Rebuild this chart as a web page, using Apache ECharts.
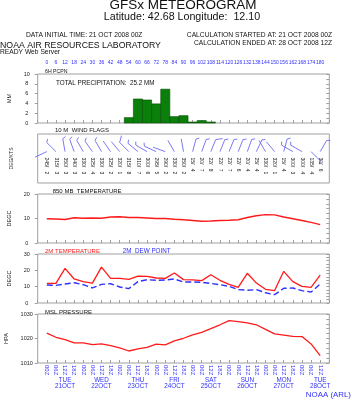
<!DOCTYPE html>
<html><head><meta charset="utf-8">
<script src="https://cdn.jsdelivr.net/npm/echarts@6/dist/echarts.min.js"></script>
<style>html,body{margin:0;padding:0;background:#fff}#c{width:352px;height:400px}</style>
</head><body><div id="c"></div>
<script>
const hours = [0,6,12,18,24,30,36,42,48,54,60,66,72,78,84,90,96,102,108,114,120,126,132,138,144,150,156,162,168,174,180];
const hourLabels = ['00Z','06Z','12Z','18Z','00Z','06Z','12Z','18Z','00Z','06Z','12Z','18Z','00Z','06Z','12Z','18Z','00Z','06Z','12Z','18Z','00Z','06Z','12Z','18Z','00Z','06Z','12Z','18Z','00Z','06Z','12Z'];
const dayHours = [12,36,60,84,108,132,156,180];
const dayNames = ['TUE','WED','THU','FRI','SAT','SUN','MON','TUE'];
const dayDates = ['21OCT','22OCT','23OCT','24OCT','25OCT','26OCT','27OCT','28OCT'];
const pcpnHours = [54,60,66,72,78,84,90,96,102,108];
const pcpnMM = [1.1,4.9,4.7,3.9,6.9,1.3,1.5,0.2,0.5,0.2];
const windDir = [245,315,350,340,330,325,330,325,320,315,310,300,295,290,330,350,15,20,22,22,22,22,20,25,330,320,15,300,300,135,30];
const windSpd = [2,3,3,3,3,4,3,2,1,8,7,6,5,2,2,2,4,7,8,7,7,6,4,4,1,1,4,3,4,4,6];
const t850 = [9.9,9.8,9.6,10.3,10.1,10.2,10.1,10.6,10.7,10.4,10.4,10.2,10.0,10.0,9.7,9.5,9.2,8.9,9.0,9.2,9.3,9.5,10.4,11.1,11.6,11.5,10.6,9.9,9.2,8.4,7.5];
const t2m = [12.0,12.0,21.2,14.7,13.1,12.2,22.0,15.1,15.1,14.5,16.5,16.3,15.3,15.1,18.4,14.3,14.1,13.7,17.3,13.9,11.4,9.6,18.2,12.2,8.4,7.6,19.4,13.1,10.2,9.6,17.1];
const td2m = [11.0,10.8,11.6,12.4,11.2,9.2,11.4,11.8,9.8,8.8,13.1,14.3,13.9,14.1,14.7,12.9,12.9,12.7,12.0,11.2,10.2,8.2,7.8,8.2,6.3,5.1,9.0,9.2,7.6,6.7,11.6];
const mslp = [1022.2,1020.5,1019.5,1018.2,1018.2,1017.5,1017.8,1017.1,1016.2,1014.9,1015.8,1016.4,1017.7,1017.4,1019.0,1020.1,1021.5,1022.5,1024.0,1025.6,1027.3,1026.9,1026.4,1025.6,1023.7,1021.9,1021.4,1020.9,1020.8,1017.8,1013.0];

const FF = 'Liberation Sans, Arial, Helvetica, sans-serif';
const BLUE = '#3030ff', RED = '#ff1a1a', GRAY = '#a0a0a0', BARB = '#6b6bf0';
const tops = [74, 134, 194, 254, 314];
const H = 49;
const grids = tops.map(t => ({left: 37.7, width: 291.6, top: t, height: H, show: true, borderColor: GRAY, borderWidth: 1, backgroundColor: 'transparent', containLabel: false, outerBoundsMode: 'none'}));

const xAxes = tops.map((t, i) => ({
  gridIndex: i, type: 'value', position: 'bottom', min: -6, max: 186, interval: 6,
  axisLine: {show: false, onZero: false}, splitLine: {show: false},
  axisTick: {show: i !== 1, inside: true, length: 3, lineStyle: {color: GRAY}},
  axisLabel: i === 4 ? {
    show: true, rotate: -90, margin: 2, fontSize: 6, fontFamily: FF, color: BLUE,
    formatter: v => { const k = hours.indexOf(v); return k < 0 ? '' : hourLabels[k]; }
  } : {show: false}
}));
xAxes.push({
  gridIndex: 0, type: 'value', position: 'top', min: -6, max: 186, interval: 6,
  axisLine: {show: false, onZero: false}, axisTick: {show: false}, splitLine: {show: false},
  axisLabel: {show: true, margin: 9, fontSize: 5, fontFamily: FF, color: BLUE,
    formatter: v => hours.indexOf(v) < 0 ? '' : String(v)}
});
xAxes.push({
  gridIndex: 4, type: 'value', position: 'bottom', offset: 6, min: -6, max: 186,
  axisLine: {show: false, onZero: false}, axisTick: {show: false}, splitLine: {show: false},
  axisLabel: {show: true, customValues: dayHours, fontSize: 6.3, lineHeight: 6.3, fontFamily: FF, color: BLUE,
    formatter: v => { const k = dayHours.indexOf(v); return k < 0 ? '' : dayNames[k] + '\n' + dayDates[k]; }}
});

function leftY(i, min, max, interval, name) {
  return {gridIndex: i, type: 'value', position: 'left', min, max, interval,
    name, nameLocation: 'middle', nameGap: 24, nameRotate: 90,
    nameTextStyle: {fontSize: 5.5, fontFamily: FF, color: '#222'},
    axisLine: {show: false, onZero: false}, splitLine: {show: false},
    axisTick: {show: true, length: 3, lineStyle: {color: GRAY}},
    axisLabel: {show: true, margin: 11, align: 'center', fontSize: 5.5, fontFamily: FF, color: '#222', formatter: v => String(v)}};
}
function rightY(i, min, max, interval) {
  return {gridIndex: i, type: 'value', position: 'right', min, max, interval,
    axisLine: {show: false, onZero: false}, splitLine: {show: false}, axisLabel: {show: false},
    axisTick: {show: true, inside: true, length: 3, lineStyle: {color: GRAY}}};
}
const yAxes = [
  leftY(0, 0, 10, 2, 'MM'),
  {gridIndex: 1, type: 'value', position: 'left', min: 0, max: 1, name: 'DEG/KTS', nameLocation: 'middle', nameGap: 24, nameRotate: 90,
    nameTextStyle: {fontSize: 5, fontFamily: FF, color: '#222'},
    axisLine: {show: false, onZero: false}, axisTick: {show: false}, axisLabel: {show: false}, splitLine: {show: false}},
  leftY(2, 0, 20, 10, 'DEGC'),
  leftY(3, 0, 30, 10, 'DEGC'),
  leftY(4, 1010, 1030, 10, 'HPA'),
  rightY(0, 0, 10, 1),
  rightY(2, 0, 20, 2),
  rightY(3, 0, 30, 2),
  rightY(4, 1010, 1030, 2)
];

const windData = hours.map((h, i) => [h, windDir[i], windSpd[i]]);
const STATION = 0.64, LABELY = 0.52;

function barbItem(params, api) {
  const h = api.value(0), dir = api.value(1), spd = api.value(2);
  const p = api.coord([h, STATION]);
  const L = 13, r = dir * Math.PI / 180;
  const ux = Math.sin(r), uy = -Math.cos(r);
  const tx = p[0] + L * ux, ty = p[1] + L * uy;
  const ch = [{type: 'line', shape: {x1: p[0], y1: p[1], x2: tx, y2: ty}, style: {stroke: BARB, lineWidth: 0.9}}];
  let n = Math.round(spd / 5);
  const br = (dir + 60) * Math.PI / 180;
  const bx = Math.sin(br), by = -Math.cos(br);
  let d = 0;
  while (n > 0) {
    const len = n >= 2 ? 7 : 3.5;
    const sx = tx - d * ux, sy = ty - d * uy;
    ch.push({type: 'line', shape: {x1: sx, y1: sy, x2: sx + len * bx, y2: sy + len * by}, style: {stroke: BARB, lineWidth: 0.9}});
    n -= n >= 2 ? 2 : 1;
    d += 2.5;
  }
  const lp = api.coord([h, LABELY]);
  ch.push({type: 'text', x: lp[0], y: lp[1], rotation: -Math.PI / 2,
    style: {text: dir + '/   ' + spd, fontSize: 5, fontFamily: FF, fill: '#222', align: 'left', verticalAlign: 'middle'}});
  return {type: 'group', children: ch};
}

function pcpnItem(params, api) {
  const h = api.value(0), v = api.value(1);
  const a = api.coord([h - 3, v]), b = api.coord([h + 3, 0]);
  return {type: 'rect', shape: {x: a[0], y: a[1], width: b[0] - a[0], height: b[1] - a[1]},
    style: {fill: '#0a800a', stroke: '#034d03', lineWidth: 0.6}};
}

const txt = (x, y, text, size, opts = {}) => ({type: 'text', x, y, silent: true,
  style: Object.assign({text, fontSize: size, fontFamily: FF, fill: '#111', align: 'left', verticalAlign: 'middle'}, opts)});

const option = {
  animation: false,
  backgroundColor: '#fff',
  grid: grids,
  xAxis: xAxes,
  yAxis: yAxes,
  graphic: [
    txt(183, 5.5, 'GFSx METEOROGRAM', 13.5, {align: 'center'}),
    txt(182, 17, 'Latitude: 42.68 Longitude:  12.10', 10.7, {align: 'center'}),
    txt(26, 35.5, 'DATA INITIAL TIME: 21 OCT 2008 00Z', 6.7),
    txt(332, 35.5, 'CALCULATION STARTED AT: 21 OCT 2008 00Z', 6.7, {align: 'right'}),
    txt(332, 43, 'CALCULATION ENDED AT: 28 OCT 2008 12Z', 6.7, {align: 'right'}),
    txt(0, 45.5, 'NOAA AIR RESOURCES LABORATORY', 8.75),
    txt(0, 52.5, 'READY Web Server', 6.7),
    txt(45, 71.5, '6H PCPN', 5.2),
    txt(56, 83, 'TOTAL PRECIPITATION:  25.2 MM', 6.3),
    txt(55, 130.5, '10 M  WIND FLAGS', 6),
    txt(52.7, 191, '850 MB  TEMPERATURE', 6),
    txt(45, 251, '2M TEMPERATURE', 6, {fill: RED}),
    txt(122.7, 251, '2M  DEW POINT', 6.3, {fill: BLUE}),
    txt(45, 312, 'MSL PRESSURE', 6),
    txt(351, 395, 'NOAA (ARL)', 7.9, {align: 'right', fill: BLUE})
  ],
  series: [
    {type: 'custom', xAxisIndex: 0, yAxisIndex: 0, renderItem: pcpnItem, data: pcpnHours.map((h, i) => [h, pcpnMM[i]]), silent: true},
    {type: 'custom', xAxisIndex: 1, yAxisIndex: 1, renderItem: barbItem, data: windData, silent: true},
    {type: 'line', xAxisIndex: 2, yAxisIndex: 2, data: hours.map((h, i) => [h, t850[i]]), symbol: 'none', lineStyle: {color: RED, width: 1.4}, silent: true},
    {type: 'line', xAxisIndex: 3, yAxisIndex: 3, data: hours.map((h, i) => [h, t2m[i]]), symbol: 'none', lineStyle: {color: RED, width: 1.3}, silent: true},
    {type: 'line', xAxisIndex: 3, yAxisIndex: 3, data: hours.map((h, i) => [h, td2m[i]]), symbol: 'none', lineStyle: {color: BLUE, width: 1.4, type: [6, 3]}, silent: true},
    {type: 'line', xAxisIndex: 4, yAxisIndex: 4, data: hours.map((h, i) => [h, mslp[i]]), symbol: 'none', lineStyle: {color: RED, width: 1.3}, silent: true}
  ]
};
const chart = echarts.init(document.getElementById('c'), null, {renderer: 'canvas'});
chart.setOption(option);
</script>
</body></html>
